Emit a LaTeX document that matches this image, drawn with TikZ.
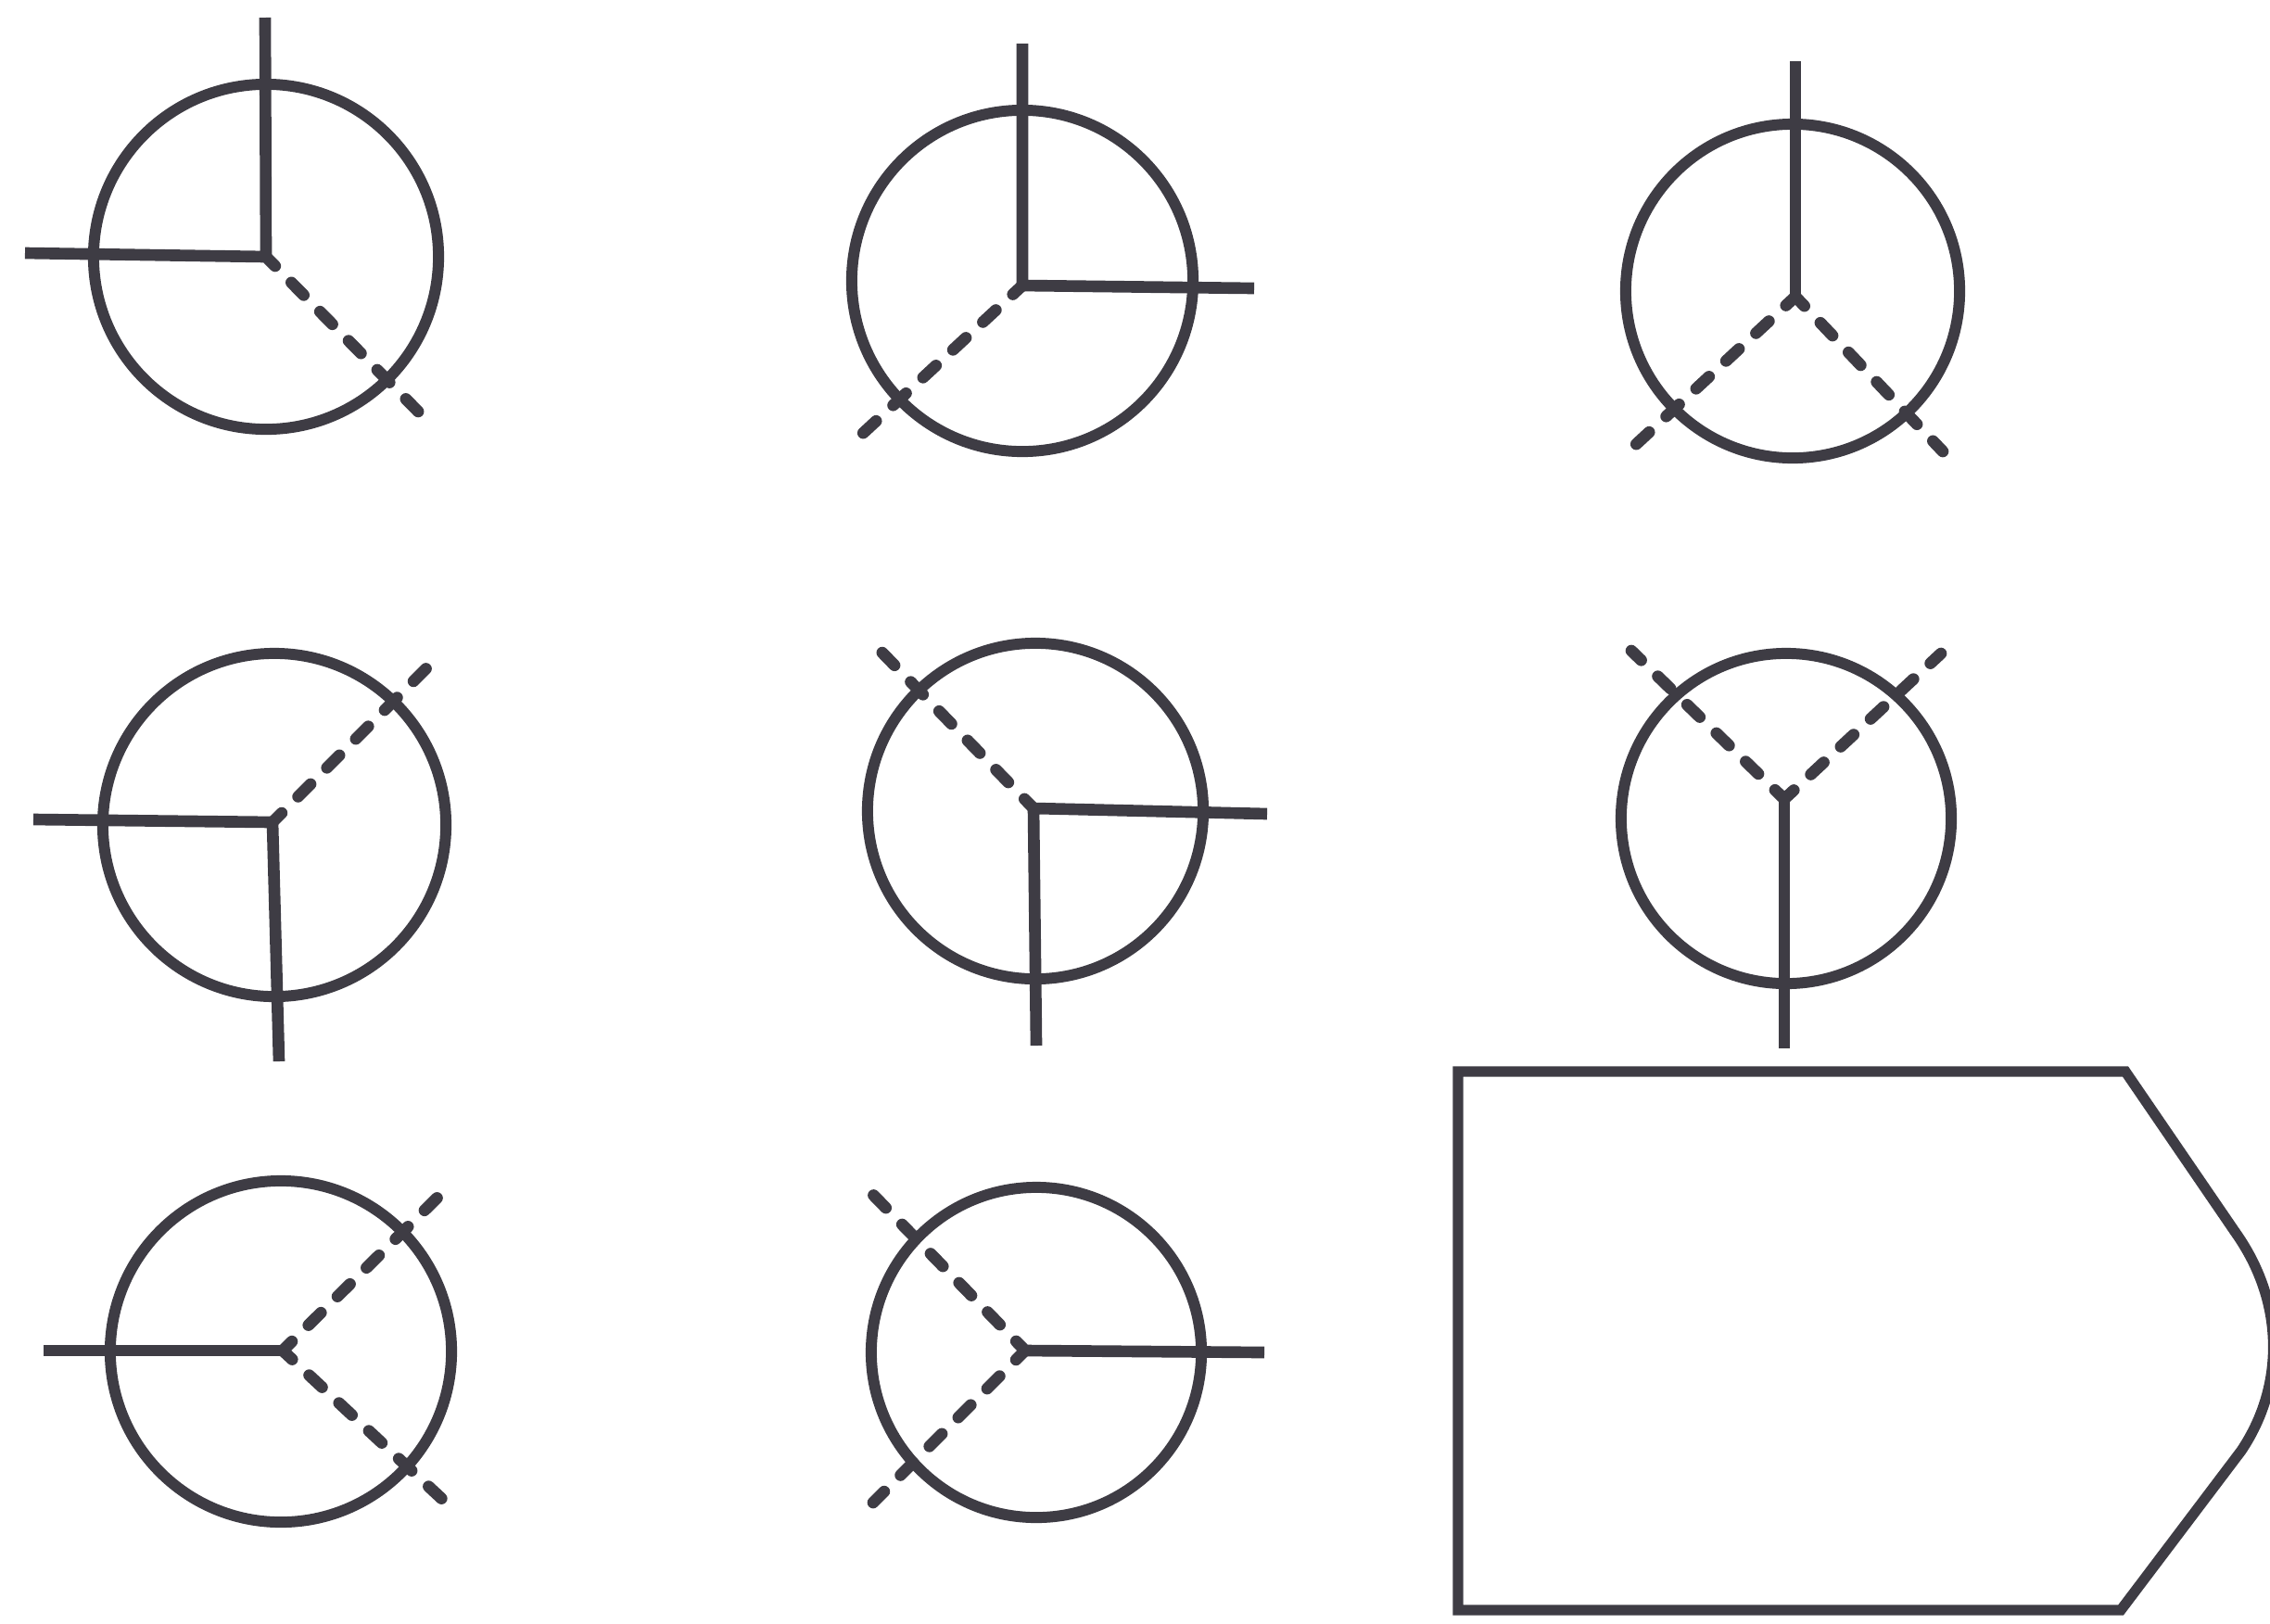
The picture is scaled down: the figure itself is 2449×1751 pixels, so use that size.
\documentclass[tikz,border=0pt]{standalone}
\definecolor{ink}{RGB}{62,60,68}
\begin{document}
\begin{tikzpicture}[x=0.01cm,y=-0.01cm,
  solidline/.style={draw=ink,line width=3.6pt,line cap=butt,line join=round},
  dashline/.style={draw=ink,line width=3.6pt,line cap=round,dash pattern=on 0.19cm off 0.25cm,dash phase=0.05cm},
  ring/.style={draw=ink,line width=3.4pt}]
\useasboundingbox (0,0) rectangle (2449,1751);

% symbol 1
\coordinate (c1) at (287,277);
\coordinate (j1) at (287,277);
\coordinate (u1) at (286,19);
\coordinate (l1) at (27,273);
\coordinate (d1) at (462,455);
\draw[ring] (c1) circle [radius=1.86cm];
\draw[solidline] (u1) -- (j1) -- (l1);
\draw[dashline] (j1) -- (d1);

% symbol 2
\coordinate (c2) at (1103,303);
\coordinate (j2) at (1103,308);
\coordinate (u2) at (1103,47);
\coordinate (r2) at (1353,311);
\coordinate (d2) at (926,472);
\draw[ring] (c2) circle [radius=1.84cm];
\draw[solidline] (u2) -- (j2) -- (r2);
\draw[dashline] (j2) -- (d2);

% symbol 3
\coordinate (c3) at (1934,314);
\coordinate (j3) at (1937,320);
\coordinate (u3) at (1937,66);
\coordinate (dl3) at (1760,484);
\coordinate (dr3) at (2096,487);
\draw[ring] (c3) circle [radius=1.80cm];
\draw[solidline] (u3) -- (j3);
\draw[dashline] (j3) -- (dl3);
\draw[dashline] (j3) -- (dr3);

% symbol 4
\coordinate (c4) at (296,890);
\coordinate (j4) at (294,887);
\coordinate (l4) at (36,884);
\coordinate (b4) at (301,1145);
\coordinate (d4) at (467,714);
\draw[ring] (c4) circle [radius=1.85cm];
\draw[solidline] (l4) -- (j4) -- (b4);
\draw[dashline] (j4) -- (d4);

% symbol 5
\coordinate (c5) at (1117,875);
\coordinate (j5) at (1115,872);
\coordinate (b5) at (1118,1128);
\coordinate (r5) at (1367,878);
\coordinate (d5) at (943,695);
\draw[ring] (c5) circle [radius=1.81cm];
\draw[solidline] (b5) -- (j5) -- (r5);
\draw[dashline] (j5) -- (d5);

% symbol 6
\coordinate (c6) at (1927,883);
\coordinate (j6) at (1925,862);
\coordinate (b6) at (1925,1131);
\coordinate (ul6) at (1760,702);
\coordinate (ur6) at (2094,705);
\draw[ring] (c6) circle [radius=1.78cm];
\draw[solidline] (j6) -- (b6);
\draw[dashline] (j6) -- (ul6);
\draw[dashline] (j6) -- (ur6);

% symbol 7
\coordinate (c7) at (303,1458);
\coordinate (j7) at (305,1457);
\coordinate (l7) at (47,1457);
\coordinate (ur7) at (480,1284);
\coordinate (dr7) at (480,1620);
\draw[ring] (c7) circle [radius=1.84cm];
\draw[solidline] (l7) -- (j7);
\draw[dashline] (j7) -- (ur7);
\draw[dashline] (j7) -- (dr7);

% symbol 8
\coordinate (c8) at (1118,1459);
\coordinate (j8) at (1106,1457);
\coordinate (r8) at (1364,1459);
\coordinate (ul8) at (942,1289);
\coordinate (dl8) at (942,1621);
\draw[ring] (c8) circle [radius=1.78cm];
\draw[solidline] (j8) -- (r8);
\draw[dashline] (j8) -- (ul8);
\draw[dashline] (j8) -- (dl8);

% plate shape
\draw[draw=ink,line width=3.2pt,line join=miter]
  (1573,1156) -- (2293,1156) -- (2412,1330)
  .. controls (2465,1405) and (2465,1495) .. (2418,1565)
  -- (2288,1737) -- (1573,1737) -- cycle;
\end{tikzpicture}
\end{document}
